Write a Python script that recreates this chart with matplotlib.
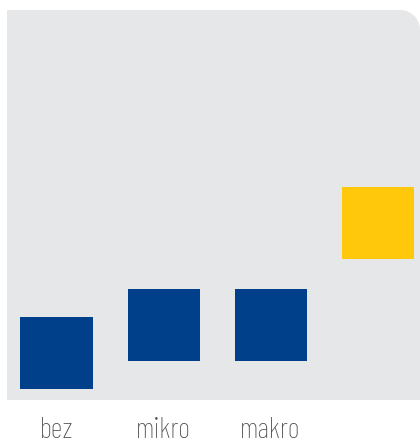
import matplotlib
matplotlib.use("Agg")
import matplotlib.pyplot as plt
from matplotlib.path import Path
from matplotlib.patches import PathPatch

categories = ["bez", "mikro", "makro", ""]
bar_bottom = [11, 39, 39, 141]
bar_top = [83, 111, 111, 213]
colors = ["#003f8a", "#003f8a", "#003f8a", "#ffc80b"]

W, H = 420, 443
fig = plt.figure(figsize=(W / 100, H / 100), dpi=100)
ax_l, ax_r, ax_t, ax_b = 7, 420, 10, 400
ax = fig.add_axes([ax_l / W, 1 - ax_b / H, (ax_r - ax_l) / W, (ax_b - ax_t) / H])
ax.set_facecolor("none")

# background with rounded top-right corner
rx = 20 / (ax_r - ax_l)
ry = 20 / (ax_b - ax_t)
k = 0.5523
verts = [(0, 0), (1, 0), (1, 1 - ry),
         (1, 1 - ry + k * ry), (1 - rx + k * rx, 1), (1 - rx, 1),
         (0, 1), (0, 0)]
codes = [Path.MOVETO, Path.LINETO, Path.LINETO,
         Path.CURVE4, Path.CURVE4, Path.CURVE4,
         Path.LINETO, Path.CLOSEPOLY]
bg = PathPatch(Path(verts, codes), transform=ax.transAxes, facecolor="#e6e7e9",
               edgecolor="none", zorder=0)
ax.add_patch(bg)

x = list(range(len(categories)))
heights = [t - b for t, b in zip(bar_top, bar_bottom)]
ax.bar(x, heights, bottom=bar_bottom, width=72 / 107, color=colors, zorder=2)

ax.set_xlim(-49.5 / 107, 3 + 42.5 / 107)
ax.set_ylim(0, 390)
ax.set_yticks([])
ax.set_xticks(x)
fam = ["Barlow Condensed", "DejaVu Sans"]
ax.set_xticklabels(categories, fontsize=21, color="#4f4f4f", family=fam, weight="light")
ax.tick_params(axis="x", length=0, pad=12)
for s in ax.spines.values():
    s.set_visible(False)

fig.savefig("out.png", dpi=100)
